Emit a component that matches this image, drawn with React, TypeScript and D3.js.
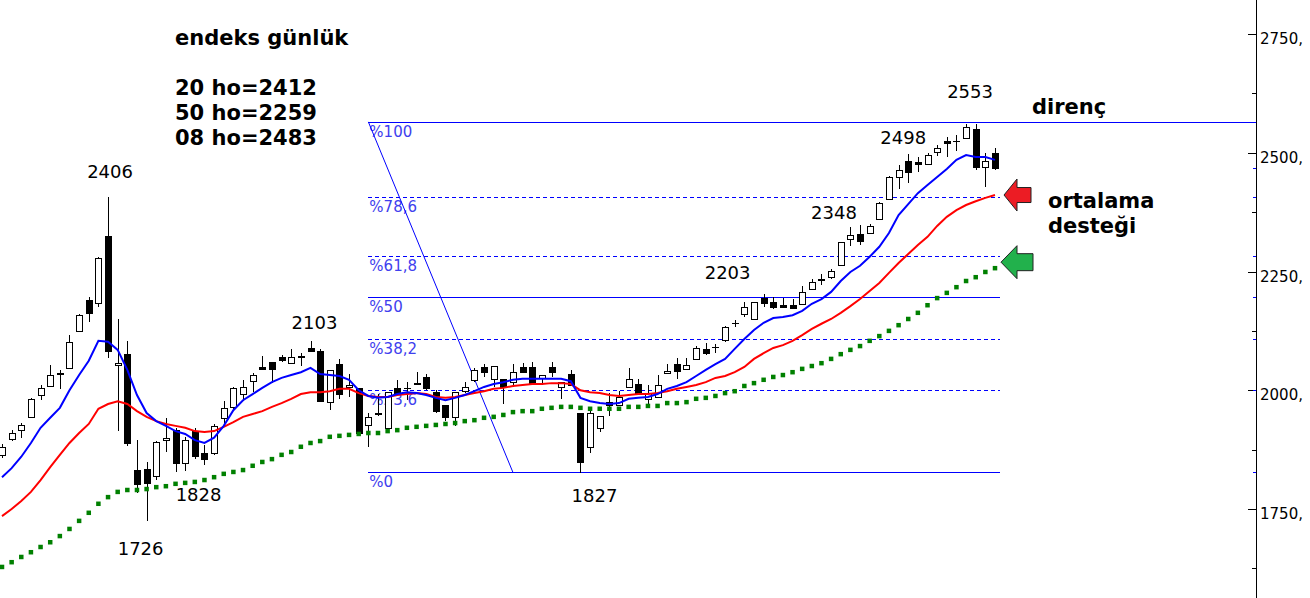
import React from 'react';
import * as d3 from 'd3';

// ---- Daily OHLC ----
const opens = [
  1864, 1897, 1916, 1944, 1990, 2009, 2034, 2047, 2125, 2190,
  2184, 2325, 2053, 2076, 1832, 1834, 1820, 1895, 1916, 1847,
  1914, 1868, 1868, 1942, 1965, 1992, 2019, 2049, 2059, 2070,
  2057, 2070, 2089, 2083, 1975, 2055, 2007, 2005, 1927, 1951,
  1921, 2005, 2004, 2015, 2028, 1996, 1969, 1944, 1998, 2022,
  2049, 2024, 2024, 2017, 2049, 2049, 2026, 2049, 2007, 2034,
  1952, 1881, 1921, 1975, 1969, 2007, 2013, 1982, 1986, 2036,
  2055, 2045, 2066, 2087, 2090, 2106, 2141, 2161, 2150, 2194,
  2186, 2179, 2179, 2182, 2213, 2233, 2238, 2264, 2318, 2329,
  2331, 2361, 2403, 2449, 2483, 2481, 2476, 2502, 2525, 2524,
  2531, 2550, 2470, 2499,
];
const closes = [
  1881, 1910, 1927, 1982, 2005, 2032, 2036, 2102, 2158, 2163,
  2278, 2083, 2057, 1889, 1803, 1805, 1891, 1900, 1847, 1895,
  1862, 1855, 1925, 1963, 2005, 2007, 2032, 2045, 2045, 2064,
  2070, 2072, 2083, 1977, 2043, 1992, 2011, 1910, 1944, 1952,
  1996, 1994, 2005, 2013, 2005, 1956, 1944, 1996, 2007, 2043,
  2038, 2051, 2007, 2038, 2038, 2015, 2032, 2038, 2017, 2011,
  1849, 1952, 1946, 1969, 1986, 2024, 1994, 1994, 2011, 2041,
  2041, 2053, 2089, 2078, 2091, 2133, 2142, 2175, 2186, 2184,
  2175, 2175, 2173, 2207, 2228, 2234, 2251, 2312, 2327, 2314,
  2346, 2394, 2449, 2464, 2460, 2476, 2495, 2510, 2521, 2525,
  2554, 2470, 2483, 2468,
];
const highs = [
  1887, 1916, 1931, 1984, 2011, 2053, 2043, 2116, 2160, 2196,
  2280, 2407, 2150, 2104, 1895, 1849, 1893, 1942, 1921, 1902,
  1921, 1885, 1929, 1977, 2007, 2022, 2036, 2072, 2059, 2074,
  2087, 2078, 2104, 2087, 2043, 2066, 2034, 2005, 1952, 1992,
  1996, 2022, 2017, 2038, 2034, 2000, 1969, 1996, 2017, 2047,
  2055, 2051, 2024, 2055, 2057, 2059, 2032, 2059, 2017, 2043,
  1952, 1963, 1946, 1994, 1998, 2047, 2024, 2011, 2032, 2055,
  2068, 2068, 2093, 2099, 2097, 2135, 2148, 2186, 2186, 2203,
  2196, 2194, 2192, 2220, 2234, 2245, 2255, 2312, 2344, 2348,
  2350, 2396, 2451, 2474, 2497, 2491, 2499, 2516, 2533, 2537,
  2561, 2561, 2499, 2510,
];
const lows = [
  1857, 1893, 1900, 1942, 1979, 2009, 2003, 2047, 2123, 2144,
  2175, 2068, 1914, 1883, 1784, 1725, 1811, 1870, 1828, 1830,
  1855, 1843, 1864, 1927, 1958, 1977, 1996, 2045, 2015, 2059,
  2057, 2051, 2083, 1977, 1958, 1982, 1986, 1910, 1881, 1946,
  1921, 1994, 1979, 2013, 2000, 1952, 1935, 1925, 1994, 2017,
  2028, 2007, 1971, 2007, 2036, 2015, 2011, 2028, 1982, 2011,
  1826, 1868, 1912, 1946, 1969, 2007, 1990, 1971, 1986, 2034,
  2024, 2045, 2066, 2074, 2078, 2102, 2133, 2154, 2150, 2175,
  2171, 2173, 2171, 2182, 2211, 2222, 2234, 2262, 2304, 2306,
  2329, 2361, 2403, 2424, 2436, 2460, 2474, 2493, 2491, 2504,
  2531, 2464, 2428, 2464,
];

// ---- Moving averages ----
const ma8 = [
  1817, 1836, 1860, 1889, 1921, 1942, 1963, 2000, 2032, 2062,
  2104, 2102, 2085, 2043, 1990, 1952, 1935, 1925, 1914, 1908,
  1895, 1889, 1900, 1925, 1958, 1979, 1992, 2005, 2017, 2026,
  2032, 2038, 2047, 2034, 2032, 2030, 2022, 2000, 1988, 1984,
  1986, 1992, 1996, 1994, 1990, 1984, 1979, 1984, 1990, 1998,
  2007, 2013, 2017, 2022, 2024, 2024, 2024, 2024, 2024, 2019,
  1984, 1977, 1973, 1971, 1973, 1982, 1984, 1986, 1992, 2003,
  2009, 2017, 2030, 2043, 2055, 2066, 2087, 2108, 2127, 2142,
  2152, 2154, 2158, 2167, 2182, 2192, 2207, 2230, 2249, 2262,
  2281, 2302, 2331, 2369, 2392, 2415, 2432, 2449, 2466, 2485,
  2495, 2491, 2491, 2485,
];
const ma20 = [
  1735, 1750, 1767, 1786, 1811, 1838, 1864, 1889, 1910, 1929,
  1961, 1971, 1977, 1971, 1956, 1944, 1935, 1929, 1925, 1921,
  1914, 1912, 1914, 1923, 1933, 1944, 1950, 1956, 1965, 1973,
  1982, 1992, 1996, 1996, 1998, 2003, 2003, 1994, 1988, 1986,
  1986, 1990, 1992, 1994, 1992, 1986, 1984, 1986, 1990, 1994,
  1998, 2003, 2005, 2009, 2011, 2013, 2013, 2015, 2015, 2013,
  2000, 1996, 1994, 1990, 1988, 1990, 1992, 1992, 1994, 1998,
  2003, 2007, 2011, 2017, 2026, 2030, 2038, 2049, 2066, 2078,
  2089, 2095, 2104, 2116, 2129, 2140, 2150, 2163, 2177, 2192,
  2209, 2226, 2247, 2268, 2287, 2306, 2323, 2346, 2365, 2379,
  2390, 2398, 2405, 2411,
];
const ma50 = [
  1628, 1638, 1649, 1659, 1670, 1680, 1693, 1708, 1725, 1742,
  1761, 1775, 1786, 1790, 1790, 1792, 1796, 1798, 1803, 1805,
  1807, 1811, 1817, 1824, 1828, 1832, 1841, 1849, 1855, 1864,
  1870, 1881, 1889, 1893, 1902, 1904, 1906, 1908, 1910, 1910,
  1914, 1916, 1921, 1923, 1925, 1927, 1929, 1931, 1935, 1937,
  1942, 1944, 1948, 1954, 1956, 1956, 1961, 1963, 1965, 1965,
  1963, 1961, 1961, 1961, 1961, 1965, 1965, 1967, 1967, 1973,
  1973, 1975, 1982, 1984, 1988, 1994, 1998, 2009, 2015, 2022,
  2028, 2032, 2038, 2045, 2051, 2057, 2066, 2076, 2085, 2093,
  2104, 2114, 2125, 2137, 2150, 2163, 2179, 2194, 2205, 2217,
  2230, 2238, 2249, 2257,
];

// ---- Axis ----
const majorTicks = [1750, 2000, 2250, 2500, 2750];
const minorTicks = [1625, 1875, 2125, 2375, 2625];

// ---- Fibonacci retracement ----
const fibLow = 1827;
const fibHigh = 2565;
const fibLevels = [0, 23.6, 38.2, 50, 61.8, 78.6, 100];
const fibLabels = ['%0', '%23,6', '%38,2', '%50', '%61,8', '%78,6', '%100'];
const fibStartIdx = 38;
const fibEndIdx = 103.5;
const trendEndIdx = 53;

// ---- Peak / trough annotations ----
const peakTexts = ['2406', '2103', '1828', '1726', '1827', '2203', '2348', '2498', '2553'];
const peakIdx = [11, 32, 18, 15, 60, 79, 89, 94, 100];
const peakVals = [2406, 2103, 1828, 1726, 1827, 2203, 2348, 2498, 2553];
const peakOffsets = [
  [2, -19], [4, -12], [23, 29], [-6, 35], [14, 30], [-36, -15], [-26, -6], [-5, -10], [4, -30],
];

const titleLines = ['endeks günlük', '', '20 ho=2412', '50 ho=2259', '08 ho=2483'];

export default function App() {
  const W = 1310;
  const H = 598;
  const n = closes.length;
  const x = d3.scaleLinear().domain([0, n - 1]).range([2, 995]);
  const y = d3.scaleLinear().domain([1750, 2750]).range([509, 34]);
  const axisX = 1256;
  const bodyW = 6;

  const lineGen = d3
    .line<number>()
    .x((_, i) => x(i))
    .y((d) => y(d))
    .curve(d3.curveLinear);

  const fibVal = (p: number) => fibLow + (fibHigh - fibLow) * (p / 100);

  const arrow = (tx: number, ty: number, hb: number, hh: number, sh: number, se: number) =>
    `M${tx},${ty} L${hb},${ty - hh} L${hb},${ty - sh} L${se},${ty - sh} L${se},${ty + sh} L${hb},${ty + sh} L${hb},${ty + hh} Z`;

  const redTip = y(ma20[n - 1]);
  const greenTip = y(ma50[n - 1]) - 6;

  return (
    <svg
      width={W}
      height={H}
      style={{ position: 'absolute', left: 0, top: 0, background: '#fff' }}
      fontFamily="'DejaVu Sans', Verdana, sans-serif"
    >
      <rect x={0} y={0} width={W} height={H} fill="#fff" />

      {/* Fibonacci lines */}
      {fibLevels.map((p, k) => {
        const yy = Math.round(y(fibVal(p))) + 0.5;
        const solid = p === 0 || p === 50 || p === 100;
        const x1 = x(fibStartIdx);
        const x2 = p === 100 ? axisX : x(fibEndIdx);
        return (
          <g key={'fib' + k}>
            <line
              x1={x1}
              x2={x2}
              y1={yy}
              y2={yy}
              stroke="#0000ff"
              strokeWidth={1}
              strokeDasharray={solid ? undefined : '4,3'}
              shapeRendering="crispEdges"
            />
            <text x={x1 + 1} y={yy + 14.5} fontSize={15} fill="#4040ee">
              {fibLabels[k]}
            </text>
          </g>
        );
      })}
      <line
        x1={x(fibStartIdx)}
        y1={y(fibHigh)}
        x2={x(trendEndIdx)}
        y2={y(fibLow)}
        stroke="#0000ff"
        strokeWidth={1}
      />

      {/* Candles */}
      {closes.map((c, i) => {
        const o = opens[i];
        const cx = Math.round(x(i)) + 0.5;
        const top = Math.round(y(Math.max(o, c)));
        const bot = Math.round(y(Math.min(o, c)));
        const up = c >= o;
        return (
          <g key={'c' + i} shapeRendering="crispEdges">
            <line x1={cx} x2={cx} y1={y(highs[i])} y2={y(lows[i])} stroke="#000" strokeWidth={1} />
            {bot - top < 1 ? (
              <line x1={cx - bodyW / 2 - 0.5} x2={cx + bodyW / 2 + 0.5} y1={top + 0.5} y2={top + 0.5} stroke="#000" strokeWidth={1.5} />
            ) : (
              <rect
                x={cx - bodyW / 2}
                y={top + 0.5}
                width={bodyW}
                height={bot - top}
                fill={up ? '#fff' : '#000'}
                stroke="#000"
                strokeWidth={1}
              />
            )}
          </g>
        );
      })}

      {/* Moving averages */}
      {ma50.map((v, i) => (
        <rect key={'g' + i} x={x(i) - 2.25} y={y(v) - 2.25} width={4.5} height={4.5} fill="#008000" />
      ))}
      <path d={lineGen(ma20) || ''} fill="none" stroke="#ff0000" strokeWidth={2} />
      <path d={lineGen(ma8) || ''} fill="none" stroke="#0000ff" strokeWidth={2} />

      {/* Peak labels */}
      {peakTexts.map((t, k) => (
        <text
          key={'p' + k}
          x={x(peakIdx[k]) + peakOffsets[k][0]}
          y={y(peakVals[k]) + peakOffsets[k][1]}
          fontSize={18}
          textAnchor="middle"
          fill="#000"
        >
          {t}
        </text>
      ))}

      {/* Title block */}
      {titleLines.map((t, k) => (
        <text key={'t' + k} x={175} y={45 + k * 25} fontSize={21} fontWeight="bold" fill="#000">
          {t}
        </text>
      ))}

      {/* Right side annotations */}
      <text x={1032} y={114} fontSize={21} fontWeight="bold" fill="#000">direnç</text>
      <text x={1048} y={208} fontSize={21} fontWeight="bold" fill="#000">ortalama</text>
      <text x={1048} y={233} fontSize={21} fontWeight="bold" fill="#000">desteği</text>
      <path d={arrow(1004, redTip, 1017, 16, 7.5, 1031)} fill="#ec1c24" stroke="#222" strokeWidth={1} />
      <path d={arrow(1001, greenTip, 1017, 16.5, 8.5, 1033)} fill="#22b14c" stroke="#222" strokeWidth={1} />

      {/* Right axis */}
      <line x1={axisX + 0.5} x2={axisX + 0.5} y1={0} y2={H} stroke="#000" strokeWidth={1} shapeRendering="crispEdges" />
      {majorTicks.map((v) => {
        const yy = Math.round(y(v)) + 0.5;
        return (
          <g key={'mt' + v}>
            <line x1={axisX - 8} x2={axisX} y1={yy} y2={yy} stroke="#000" shapeRendering="crispEdges" />
            <text x={axisX + 4} y={yy + 9} fontSize={15} fill="#000">
              {v + ','}
            </text>
          </g>
        );
      })}
      {minorTicks.map((v) => {
        const yy = Math.round(y(v)) + 0.5;
        return <line key={'mn' + v} x1={axisX - 4} x2={axisX} y1={yy} y2={yy} stroke="#000" shapeRendering="crispEdges" />;
      })}
      {fibLevels
        .filter((p) => p !== 100)
        .map((p) => {
          const yy = Math.round(y(fibVal(p))) + 0.5;
          return <line key={'bt' + p} x1={axisX - 3} x2={axisX} y1={yy} y2={yy} stroke="#0000ff" shapeRendering="crispEdges" />;
        })}
      <line
        x1={axisX - 3}
        x2={axisX}
        y1={Math.round(y(closes[n - 1])) + 0.5}
        y2={Math.round(y(closes[n - 1])) + 0.5}
        stroke="#0000ff"
        shapeRendering="crispEdges"
      />
    </svg>
  );
}
